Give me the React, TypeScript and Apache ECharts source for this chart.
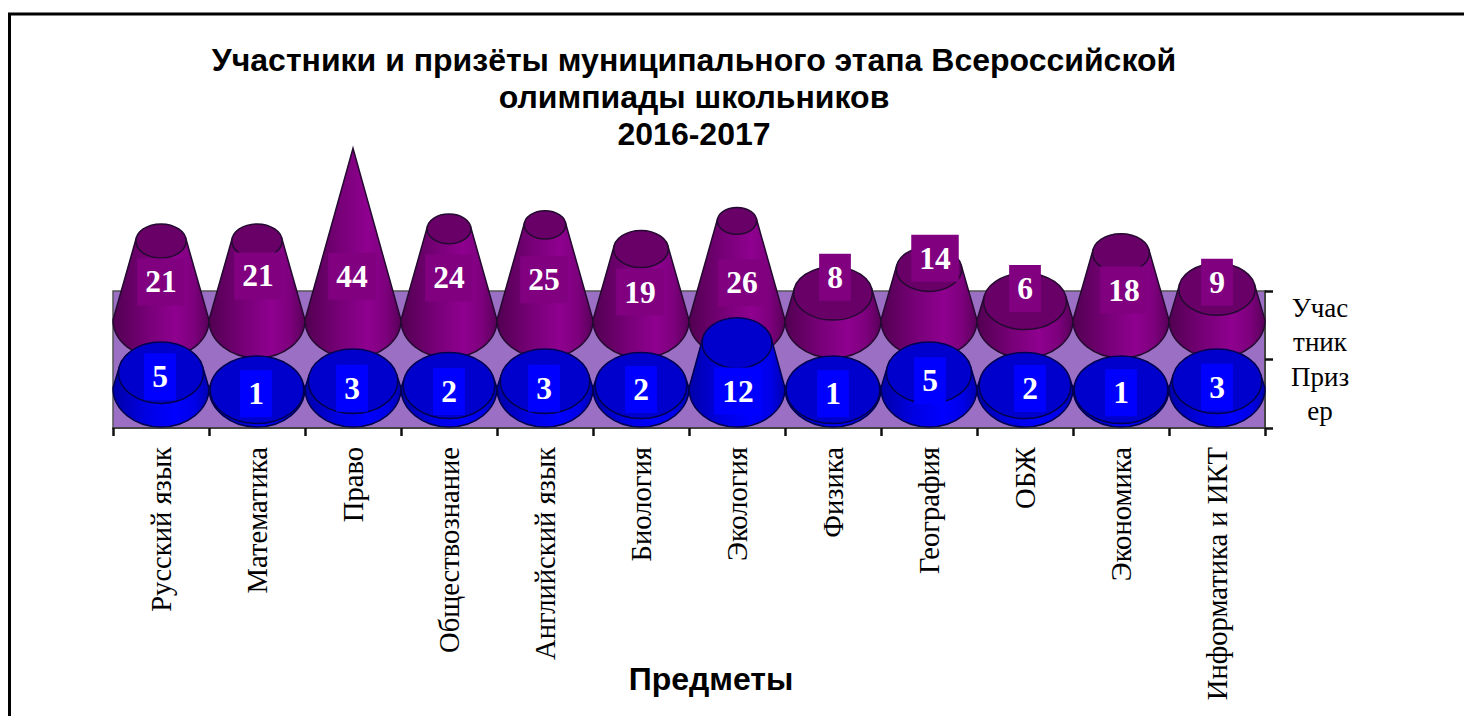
import React, { useEffect, useRef } from "react";
import * as echarts from "echarts";

const subjects = ["Русский язык", "Математика", "Право", "Обществознание", "Английский язык", "Биология", "Экология", "Физика", "География", "ОБЖ", "Экономика", "Информатика и ИКТ"];
const participants = [21, 21, 44, 24, 25, 19, 26, 8, 14, 6, 18, 9];
const winners = [5, 1, 3, 2, 3, 2, 12, 1, 5, 2, 1, 3];
const seriesLabels = ["Приз\nер", "Учас\nтник"];
const titleText = "Участники и призёты муниципального этапа Всероссийской\nолимпиады школьников\n2016-2017";
const axisTitle = "Предметы";

// Hand-placed label nudges (px) relative to the cone's top centre, as in the source picture.
const purpleNudgeX = [0, 1, -1, 0, -1, -1, 5, 2, 6, 0, 3, 0];
const purpleNudgeY = [41, 35, 128, 49, 55, 43, 62, -16, -11, -13, 37, -7];
const blueNudgeX = [-1, -1, -1, 0, -1, 0, 1, 0, 1, 5, 0, 0];
const blueNudgeY = [4, 4, 7, 6, 7, 4, 48, 4, 8, 3, 3, 6];

const AXIS_MAX = 44;
const SERIF = "'Liberation Serif', 'Times New Roman', serif";
const SANS = "'Liberation Sans', Arial, sans-serif";

type Look = {
  stops: { offset: number; color: string }[];
  cap: string;
  stroke: string;
  labelBg: string;
  capRatio: number;
  baseRy: number;
  baseShift: number;
  nudgeX: number[];
  nudgeY: number[];
};

const purpleLook: Look = {
  stops: [
    { offset: 0, color: "#520052" },
    { offset: 0.35, color: "#760076" },
    { offset: 0.65, color: "#8f008f" },
    { offset: 0.85, color: "#7c007c" },
    { offset: 1, color: "#580058" },
  ],
  cap: "#680068",
  stroke: "#240a30",
  labelBg: "#800080",
  capRatio: 0.68,
  baseRy: 38,
  baseShift: 5.6,
  nudgeX: purpleNudgeX,
  nudgeY: purpleNudgeY,
};

const blueLook: Look = {
  stops: [
    { offset: 0, color: "#0000a8" },
    { offset: 0.35, color: "#0000e4" },
    { offset: 0.65, color: "#0000ff" },
    { offset: 0.85, color: "#0000e8" },
    { offset: 1, color: "#0000b0" },
  ],
  cap: "#0000cc",
  stroke: "#000050",
  labelBg: "#0000ff",
  capRatio: 0.72,
  baseRy: 39,
  baseShift: 6,
  nudgeX: blueNudgeX,
  nudgeY: blueNudgeY,
};

function coneRenderer(look: Look) {
  return (params: any, api: any) => {
    const i = api.value(0);
    const v = api.value(1);
    const [cx, topY] = api.coord([i, v]);
    const [, zeroY] = api.coord([i, 0]);
    const R = (api.size([1, 0])[0] as number) / 2;
    const r = R * (1 - v / AXIS_MAX);
    const ry = r * look.capRatio;
    const by = zeroY - look.baseShift;
    const k = (look.baseShift * r) / R;
    const tx = ry > 0.5 ? r * Math.sqrt(Math.max(0, 1 - (k / ry) ** 2)) : 0;
    const ty = topY - k;
    const d =
      `M${cx - R} ${by} L${cx - tx} ${ty} L${cx + tx} ${ty} L${cx + R} ${by} ` +
      `A${R} ${look.baseRy} 0 0 1 ${cx - R} ${by} Z`;
    const children: any[] = [
      {
        type: "path",
        shape: { pathData: d, x: cx - R, y: ty, width: 2 * R, height: by + look.baseRy - ty },
        style: {
          fill: new echarts.graphic.LinearGradient(0, 0, 1, 0, look.stops),
          stroke: look.stroke,
          lineWidth: 1.5,
        },
      },
    ];
    if (ry > 0.5) {
      children.push({
        type: "ellipse",
        shape: { cx, cy: topY, rx: r, ry },
        style: { fill: look.cap, stroke: look.stroke, lineWidth: 1.5 },
      });
    }
    children.push({
      type: "text",
      z2: 10,
      style: {
        text: String(v),
        x: cx + look.nudgeX[i],
        y: topY + look.nudgeY[i],
        align: "center",
        verticalAlign: "middle",
        fill: "#ffffff",
        font: `bold 31.5px ${SERIF}`,
        backgroundColor: look.labelBg,
        padding: [8, 8, 7, 8],
      },
    });
    return { type: "group", children };
  };
}

const hiddenX = (gridIndex: number) => ({
  type: "category" as const,
  gridIndex,
  data: subjects,
  show: false,
});
const hiddenY = (gridIndex: number) => ({
  type: "value" as const,
  gridIndex,
  min: 0,
  max: AXIS_MAX,
  show: false,
});

export default function App() {
  const ref = useRef<HTMLDivElement>(null);
  useEffect(() => {
    if (!ref.current) return;
    const chart = echarts.init(ref.current, undefined, { renderer: "svg" });
    const tick = { show: true, length: 8, lineStyle: { color: "#111111", width: 2.5 } };
    chart.setOption({
      animation: false,
      backgroundColor: "#ffffff",
      title: {
        text: titleText,
        left: 689,
        top: 36,
        textAlign: "center",
        textStyle: { fontFamily: SANS, fontSize: 32, fontWeight: "bold", color: "#000000", lineHeight: 37 },
      },
      graphic: [
        {
          type: "rect",
          shape: { x: 9.5, y: 14, width: 1480, height: 720 },
          style: { fill: "none", stroke: "#000000", lineWidth: 3 },
          silent: true,
          z: -10,
        },
      ],
      grid: [
        { left: 113, width: 1152, top: 291, height: 137, show: true, backgroundColor: "#9b70c4", borderColor: "#555555", borderWidth: 1.5, outerBoundsMode: "none" },
        { left: 113, width: 1152, top: 148.3, height: 177.3, outerBoundsMode: "none" },
        { left: 113, width: 1152, top: 207, height: 187, outerBoundsMode: "none" },
      ],
      xAxis: [
        {
          type: "category",
          gridIndex: 0,
          data: subjects,
          axisLine: { show: true, lineStyle: { color: "#444444", width: 2 } },
          axisTick: tick,
          axisLabel: {
            interval: 0,
            rotate: 90,
            margin: 19,
            fontFamily: SERIF,
            fontSize: 28.6,
            color: "#000000",
          },
          name: axisTitle,
          nameLocation: "middle",
          nameMoveOverlap: false,
          nameGap: 235,
          nameTextStyle: { fontFamily: SANS, fontSize: 32, fontWeight: "bold", color: "#000000", padding: [0, 0, 0, 44] },
        },
        hiddenX(1),
        hiddenX(2),
      ],
      yAxis: [
        {
          type: "category",
          gridIndex: 0,
          position: "right",
          data: seriesLabels,
          axisLine: { show: true, lineStyle: { color: "#444444", width: 2 } },
          axisTick: tick,
          axisLabel: {
            interval: 0,
            margin: 55,
            align: "center",
            fontFamily: SERIF,
            fontSize: 27,
            lineHeight: 34,
            color: "#000000",
          },
        },
        hiddenY(1),
        hiddenY(2),
      ],
      series: [
        {
          type: "custom",
          name: "Участник",
          xAxisIndex: 1,
          yAxisIndex: 1,
          z: 3,
          data: participants.map((v, i) => [i, v]),
          renderItem: coneRenderer(purpleLook),
        },
        {
          type: "custom",
          name: "Призер",
          xAxisIndex: 2,
          yAxisIndex: 2,
          z: 4,
          data: winners.map((v, i) => [i, v]),
          renderItem: coneRenderer(blueLook),
        },
      ],
    });
    return () => chart.dispose();
  }, []);
  return <div ref={ref} style={{ position: "absolute", left: 0, top: 0, width: 1464, height: 716, overflow: "hidden" }} />;
}
